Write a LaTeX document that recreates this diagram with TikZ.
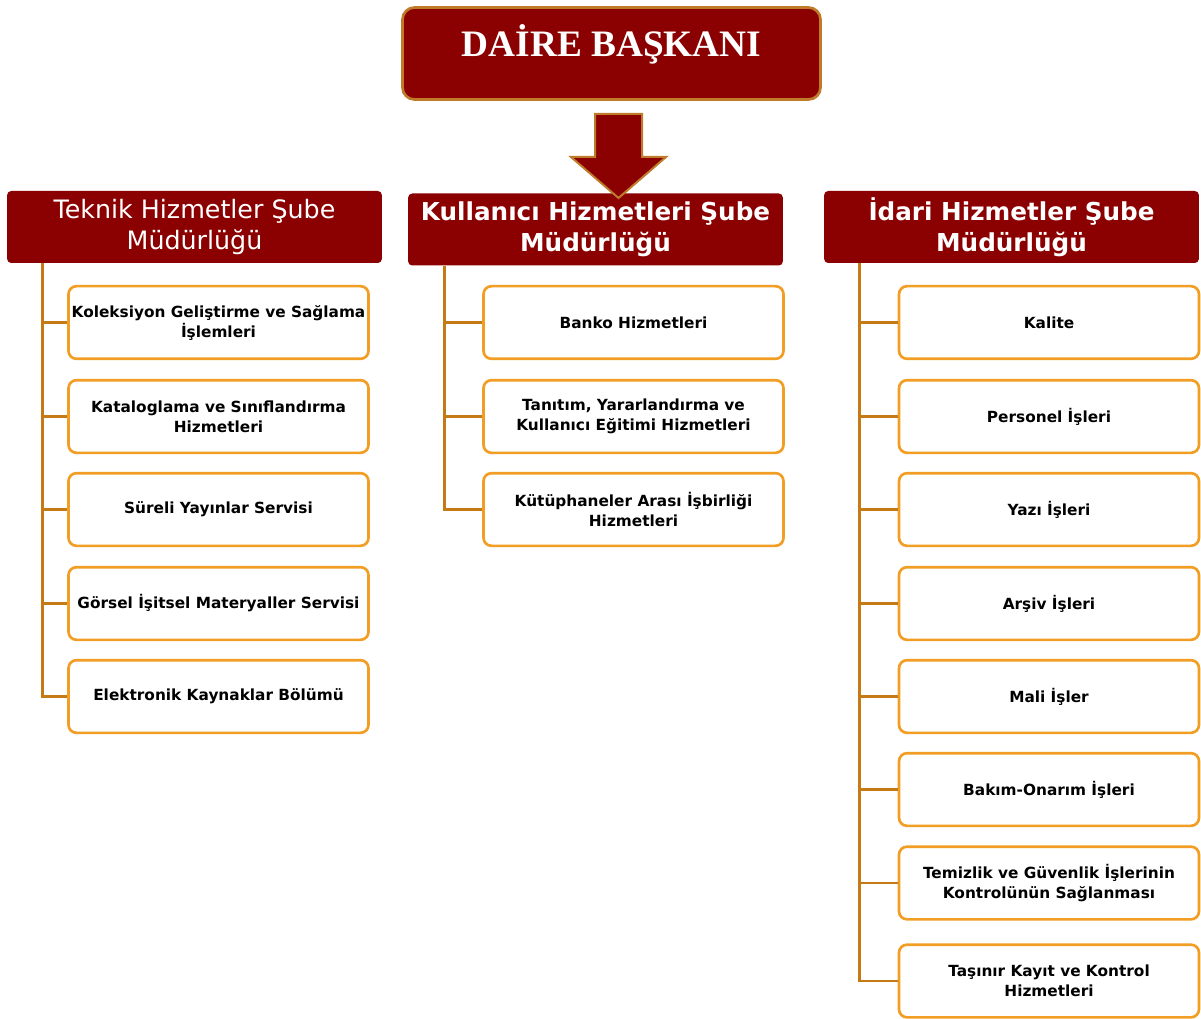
\documentclass[tikz,border=0pt]{standalone}
\usepackage{fontspec}
\setmainfont{DejaVu Sans}
\newfontfamily\serifTitle{Liberation Serif}
\definecolor{deepRed}{RGB}{139,0,0}
\definecolor{goldEdge}{RGB}{191,122,42}
\definecolor{branchBrown}{RGB}{198,122,22}
\definecolor{boxOrange}{RGB}{242,158,36}

\begin{document}
\begin{tikzpicture}[x=0.75pt,y=-0.75pt,
  chief/.style={rectangle,rounded corners=9pt,draw=goldEdge,line width=2pt,fill=deepRed,minimum width=313.5pt,minimum height=69pt},
  dept/.style={rectangle,rounded corners=3pt,fill=deepRed,text=white,minimum width=281pt,minimum height=54pt,align=center,inner sep=2pt},
  unit/.style={rectangle,rounded corners=6pt,draw=boxOrange,line width=2pt,fill=white,minimum width=225pt,minimum height=54.5pt,align=center,inner sep=2pt,font=\fontsize{11.5}{15}\selectfont\bfseries},
  branch/.style={draw=branchBrown,line width=2.2pt}]
\useasboundingbox (0,0) rectangle (1201,1019);
% Head of the department
\node[chief] (chief) at (611.5,53.5) {};
\node[text=white,font=\serifTitle\bfseries\fontsize{28}{32}\selectfont] (chiefText) at (611.5,44) {DAİRE BAŞKANI};
% Branch offices
\node[dept,font=\fontsize{19}{23}\selectfont] (tk) at (194.5,227) {Teknik Hizmetler Şube\\Müdürlüğü};
\node[dept,font=\fontsize{18.5}{23}\selectfont\bfseries] (ku) at (595.5,229.5) {Kullanıcı Hizmetleri Şube\\Müdürlüğü};
\node[dept,font=\fontsize{18.5}{23}\selectfont\bfseries] (id) at (1011.5,227) {İdari Hizmetler Şube\\Müdürlüğü};
% Arrow from the head
\filldraw[fill=deepRed,draw=goldEdge,line width=1.5pt,line join=miter]
  (595,114) -- (642,114) -- (642,157) -- (666,157) -- (618.5,198) -- (571,157) -- (595,157) -- cycle;
% Units of Teknik Hizmetler
\node[unit] (tk1) at (218.5,322.5) {Koleksiyon Geliştirme ve Sağlama\\İşlemleri};
\node[unit] (tk2) at (218.5,416.5) {Kataloglama ve Sınıflandırma\\Hizmetleri};
\node[unit] (tk3) at (218.5,509.5) {Süreli Yayınlar Servisi};
\node[unit] (tk4) at (218.5,603.5) {Görsel İşitsel Materyaller Servisi};
\node[unit] (tk5) at (218.5,696.5) {Elektronik Kaynaklar Bölümü};
% Units of Kullanıcı Hizmetleri
\node[unit] (ku1) at (633.5,322.5) {Banko Hizmetleri};
\node[unit] (ku2) at (633.5,416.5) {Tanıtım, Yararlandırma ve\\Kullanıcı Eğitimi Hizmetleri};
\node[unit] (ku3) at (633.5,509.5) {Kütüphaneler Arası İşbirliği\\Hizmetleri};
% Units of İdari Hizmetler
\node[unit] (id1) at (1049,322.5) {Kalite};
\node[unit] (id2) at (1049,416.5) {Personel İşleri};
\node[unit] (id3) at (1049,509.5) {Yazı İşleri};
\node[unit] (id4) at (1049,603.5) {Arşiv İşleri};
\node[unit] (id5) at (1049,696.5) {Mali İşler};
\node[unit] (id6) at (1049,789.5) {Bakım-Onarım İşleri};
\node[unit] (id7) at (1049,883) {Temizlik ve Güvenlik İşlerinin\\Kontrolünün Sağlanması};
\node[unit] (id8) at (1049,981) {Taşınır Kayıt ve Kontrol\\Hizmetleri};
% Trunk lines
\coordinate (tkRoot) at ([xshift=27pt]tk.south west);
\coordinate (kuRoot) at ([xshift=27.75pt]ku.south west);
\coordinate (idRoot) at ([xshift=27pt]id.south west);
\draw[branch] (tkRoot) |- (tk1.west);
\draw[branch] (tkRoot) |- (tk2.west);
\draw[branch] (tkRoot) |- (tk3.west);
\draw[branch] (tkRoot) |- (tk4.west);
\draw[branch] (tkRoot) |- (tk5.west);
\draw[branch] (kuRoot) |- (ku1.west);
\draw[branch] (kuRoot) |- (ku2.west);
\draw[branch] (kuRoot) |- (ku3.west);
\draw[branch] (idRoot) |- (id1.west);
\draw[branch] (idRoot) |- (id2.west);
\draw[branch] (idRoot) |- (id3.west);
\draw[branch] (idRoot) |- (id4.west);
\draw[branch] (idRoot) |- (id5.west);
\draw[branch] (idRoot) |- (id6.west);
\draw[branch] (idRoot) |- (id7.west);
\draw[branch] (idRoot) |- (id8.west);
\end{tikzpicture}
\end{document}
